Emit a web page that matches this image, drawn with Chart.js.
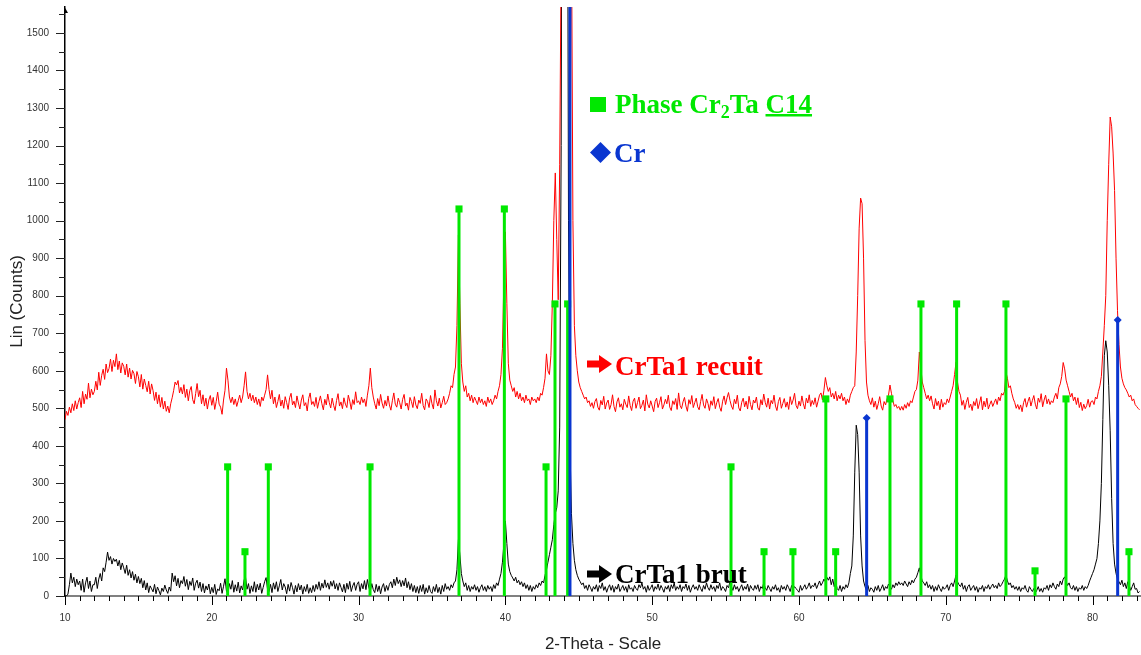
<!DOCTYPE html>
<html>
<head>
<meta charset="utf-8">
<title>CrTa1 - DRX</title>
<script src="https://cdn.jsdelivr.net/npm/chart.js@4.4.1/dist/chart.umd.min.js"></script>
<style>
  html, body { margin: 0; padding: 0; background: #fff; }
  #wrap { position: relative; width: 1141px; height: 655px; }
</style>
</head>
<body>
<div id="wrap"><canvas id="xrdChart"></canvas></div>
<script>
// scan grid of the diffractometer (2-theta, degrees)
const scanStart = 10.0;
const scanStep = 0.1;

// CrTa1 recuit, counts (one row = one degree, 10.0 -> 83.2)
const recuitCounts = [
  470, 492, 481, 503, 488, 512, 494, 520, 498, 515,
  528, 502, 545, 512, 538, 524, 567, 528, 551, 536,
  545, 572, 549, 596, 561, 588, 604, 577, 618, 595,
  606, 631, 598, 628, 611, 645, 603, 626, 594, 621,
  612, 589, 618, 583, 607, 578, 601, 592, 566, 598,
  584, 557, 590, 551, 578, 561, 544, 572, 538, 565,
  547, 521, 543, 512, 536, 503, 529, 498, 519, 492,
  506, 488, 512, 528, 547, 570, 562, 574, 541, 556,
  538, 563, 529, 551, 520, 547, 558, 523, 512, 539,
  566, 531, 548, 512, 536, 506, 527, 498, 522, 534,
  508, 529, 497, 518, 543, 511, 503, 484, 522, 548,
  607, 575, 530, 515, 530, 510, 525, 505, 520, 535,
  515, 530, 560, 597, 545, 525, 540, 520, 535, 515,
  530, 510, 525, 505, 530, 520, 535, 550, 589, 550,
  525, 548, 512, 530, 502, 518, 537, 506, 522, 500,
  531, 515, 497, 528, 540, 509, 519, 502, 533, 514,
  498, 522, 536, 507, 515, 493, 526, 541, 510, 518,
  505, 529, 500, 518, 533, 512, 496, 524, 509, 538,
  516, 501, 527, 508, 494, 521, 539, 506, 517, 499,
  528, 511, 502, 535, 519, 497, 523, 510, 544, 515,
  520, 510, 530, 515, 525, 505, 535, 560, 607, 555,
  530, 512, 498, 526, 507, 537, 514, 500, 521, 506,
  533, 509, 495, 520, 541, 511, 503, 527, 515, 498,
  524, 537, 506, 514, 495, 529, 518, 502, 531, 509,
  499, 522, 513, 540, 507, 496, 525, 518, 502, 534,
  512, 498, 549, 520, 506, 527, 501, 515, 532, 510,
  515, 525, 540, 560, 555, 590, 610, 720, 962, 780,
  620, 570, 545, 560, 530, 540, 520, 535, 515, 530,
  520, 510, 530, 515, 525, 510, 520, 505, 530, 515,
  525, 510, 520, 535, 525, 545, 560, 590, 660, 850,
  970, 780, 620, 575, 560, 545, 555, 530, 545, 525,
  540, 520, 530, 515, 535, 520, 525, 510, 530, 520,
  525, 515, 530, 520, 540, 535, 555, 580, 645, 600,
  590, 640, 780, 1000, 1127, 950, 789, 1150, 1700, 2600,
  3800, 5200, 6800, 7600, 6500, 1800, 1000, 720, 640, 600,
  570, 555, 545, 535, 525, 530, 515, 520, 505, 515,
  500, 518, 526, 503, 495, 521, 509, 532, 498, 514,
  522, 497, 510, 536, 505, 491, 517, 528, 503, 512,
  496, 524, 511, 502, 533, 507, 494, 519, 527, 500,
  515, 530, 499, 508, 522, 493, 536, 511, 501, 520,
  506, 491, 518, 527, 502, 515, 531, 498, 509, 524,
  512, 535, 503, 494, 520, 510, 526, 497, 541, 508,
  499, 517, 529, 506, 492, 523, 511, 534, 502, 515,
  527, 504, 496, 518, 537, 509, 500, 525, 513, 494,
  520, 508, 531, 499, 515, 526, 503, 492, 519, 533,
  510, 528, 542, 521, 506, 497, 524, 512, 535, 501,
  493, 516, 527, 504, 519, 498, 532, 510, 496, 522,
  514, 530, 501, 495, 523, 509, 538, 516, 503, 527,
  498, 521, 512, 535, 506, 494, 518, 529, 500, 513,
  526, 503, 517, 497, 531, 510, 522, 540, 508, 499,
  519, 506, 533, 512, 498, 527, 514, 536, 505, 521,
  510, 528, 503, 519, 535, 541, 522, 548, 582, 560,
  545, 555, 530, 540, 525, 545, 520, 535, 525, 540,
  520, 530, 510, 525, 515, 535, 545, 555, 560, 650,
  800, 980, 1060, 1045, 900, 680, 570, 535, 520, 510,
  528, 503, 519, 497, 512, 531, 506, 495, 518, 509,
  525, 535, 562, 540, 520, 505, 510, 500, 505, 495,
  505, 495, 510, 500, 515, 505, 520, 515, 530, 545,
  550, 575, 650, 610, 570, 555, 540, 525, 535, 520,
  533, 512, 498, 526, 507, 519, 496, 524, 503, 515,
  510, 525, 515, 530, 545, 560, 590, 623, 570, 545,
  535, 508, 521, 497, 516, 529, 502, 511, 494, 518,
  507, 526, 499, 514, 531, 496, 519, 504, 527, 498,
  510, 520, 505, 515, 525, 510, 530, 520, 540, 535,
  545, 597, 580, 555, 560, 540, 525, 515, 500, 510,
  497, 509, 491, 515, 526, 503, 518, 530, 506, 521,
  534, 511, 498, 527, 516, 539, 504, 522, 535, 512,
  525, 510, 520, 515, 530, 540, 525, 555, 565, 585,
  622, 605, 575, 560, 545, 530, 540, 520, 530, 510,
  528, 502, 516, 494, 511, 499, 507, 524, 503, 518,
  520, 510, 530, 525, 545, 560, 585, 650, 720, 800,
  1000, 1150, 1276, 1250, 1180, 1080, 900, 760, 670, 610,
  580, 565, 555, 549, 540, 530, 535, 520, 525, 510,
  505, 500, 496
];

// CrTa1 brut, counts (same grid)
const brutCounts = [
  0, 0, 5, 30, 61, 35, 50, 25, 45, 30,
  40, 15, 45, 10, 35, 50, 20, 40, 12, 30,
  30, 50, 20, 45, 60, 40, 75, 65, 90, 117,
  95, 105, 85, 100, 92, 98, 80, 95, 70, 88,
  75, 60, 82, 55, 70, 48, 65, 42, 58, 35,
  52, 33, 47, 22, 41, 16, 35, 9, 27, 19,
  11, 31, 6, 24, 14, 3, 21, 12, 29, 16,
  7, 24, 13, 61, 38, 54, 27, 47, 22, 41,
  33, 52, 26, 44, 17, 39, 28, 48, 15, 34,
  42, 21, 37, 12, 33, 8, 27, 16, 32, 6,
  23, 9, 31, 4, 19, 14, 34, 7, 26, 46,
  13, 6, 33, 18, 41, 10, 30, 13, 37, 8,
  27, 16, 43, 49, 18, 33, 7, 27, 12, 38,
  10, 31, 16, 34, 7, 23, 38, 49, 17, 12,
  31, 9, 35, 18, 38, 12, 27, 44, 16, 33,
  24, 6, 31, 13, 36, 22, 5, 28, 11, 33,
  16, 29, 5, 25, 12, 31, 7, 22, 9, 28,
  12, 31, 18, 38, 15, 34, 21, 43, 23, 35,
  18, 39, 26, 41, 19, 33, 15, 35, 23, 11,
  31, 9, 34, 18, 39, 12, 27, 36, 15, 31,
  38, 12, 33, 19, 41, 17, 44, 22, 14, 33,
  17, 9, 31, 12, 27, 6, 24, 33, 12, 28,
  15, 31, 38, 22, 45, 28, 50, 33, 43, 25,
  41, 27, 48, 22, 38, 17, 33, 12, 28, 9,
  25, 7, 28, 12, 31, 5, 22, 9, 28, 12,
  7, 25, 12, 31, 9, 23, 5, 28, 12, 33,
  18, 25, 15, 30, 22, 35, 40, 70, 150, 110,
  60, 40, 25, 35, 15, 28, 12, 25, 18, 30,
  15, 25, 10, 22, 30, 15, 25, 12, 28, 18,
  25, 12, 30, 20, 35, 28, 45, 60, 90, 140,
  200, 140, 85, 65, 55, 48, 40, 50, 35, 42,
  30, 38, 25, 35, 20, 30, 15, 28, 12, 25,
  18, 30, 22, 35, 28, 40, 35, 55, 70, 90,
  110, 130, 150, 190, 220, 235, 280, 450, 1200, 3000,
  5000, 4500, 2500, 1000, 400, 220, 140, 95, 70, 55,
  45, 38, 30, 35, 20, 28, 15, 30, 22, 12,
  25, 18, 30, 12, 28, 20, 35, 15, 25, 10,
  22, 30, 15, 28, 10, 25, 18, 32, 12, 20,
  28, 15, 25, 10, 30, 18, 22, 12, 28, 20,
  15, 30, 22, 35, 18, 25, 10, 28, 15, 22,
  30, 12, 25, 18, 32, 15, 28, 20, 10, 25,
  18, 28, 12, 30, 20, 35, 15, 25, 18, 30,
  12, 25, 20, 32, 15, 28, 10, 22, 30, 18,
  25, 15, 30, 20, 12, 28, 18, 35, 22, 15,
  30, 18, 25, 12, 28, 20, 35, 15, 25, 20,
  12, 28, 22, 38, 25, 15, 30, 18, 25, 12,
  22, 30, 15, 25, 18, 32, 12, 28, 20, 15,
  28, 18, 30, 12, 25, 20, 35, 22, 15, 28,
  20, 12, 25, 18, 30, 15, 22, 10, 28, 18,
  25, 15, 30, 22, 12, 28, 18, 25, 20, 15,
  10, 28, 15, 22, 30, 18, 25, 35, 20, 28,
  25, 35, 20, 30, 40, 28, 35, 45, 38, 50,
  42, 51, 30, 45, 25, 38, 20, 15, 28, 12,
  25, 18, 30, 22, 35, 60, 80, 160, 330, 455,
  430, 330, 160, 80, 40, 25, 15, 28, 12, 22,
  18, 10, 25, 15, 28, 12, 20, 30, 15, 25,
  20, 32, 25, 18, 30, 22, 35, 28, 38, 30,
  35, 28, 40, 32, 25, 38, 30, 42, 35, 45,
  50, 62, 75, 55, 40, 35, 28, 38, 22, 30,
  18, 28, 12, 25, 15, 30, 20, 12, 25, 18,
  22, 30, 15, 28, 35, 25, 40, 56, 38, 30,
  25, 35, 18, 28, 12, 25, 30, 15, 22, 28,
  15, 25, 10, 22, 18, 28, 12, 25, 20, 30,
  18, 25, 32, 22, 28, 20, 35, 25, 30, 38,
  45, 56, 40, 30, 35, 22, 28, 18, 25, 15,
  25, 12, 22, 18, 28, 15, 10, 25, 18, 12,
  20, 8, 15, 25, 12, 20, 10, 22, 18, 28,
  15, 30, 22, 35, 25, 18, 32, 25, 40, 30,
  45, 51, 38, 28, 35, 22, 18, 28, 15, 25,
  12, 22, 18, 28, 15, 25, 20, 28, 40, 50,
  60, 70, 85, 100, 140, 200, 300, 470, 640, 680,
  650, 560, 440, 260, 140, 85, 60, 45, 38, 30,
  42, 25, 35, 20, 38, 28, 15, 25, 35, 18,
  20, 8, 12
];

// reference sticks: Phase Cr2Ta C14 (green) and Cr (blue)
const c14Angles = [21.08, 22.26, 23.85, 30.78, 36.84, 39.93, 42.77, 43.38, 44.24, 55.37, 57.62,
                   59.59, 61.83, 62.50, 66.20, 68.31, 70.74, 74.10, 76.08, 78.19, 82.48];
const c14Heights = [344, 118, 344, 344, 1031, 1031, 344, 778, 778, 344, 118,
                    118, 525, 118, 525, 778, 778, 778, 67, 525, 118];
const crAngles = [44.40, 64.61, 81.71];
const crHeights = [4000, 474, 735];

// axis tick labels
const xTickLabels = [10, 20, 30, 40, 50, 60, 70, 80];
const yTickLabels = [0, 100, 200, 300, 400, 500, 600, 700, 800, 900, 1000, 1100, 1200, 1300, 1400, 1500];

const c14Color = '#00e800';
const crColor = '#0a36d0';
const sansFont = '"Liberation Sans", Arial, sans-serif';
const serifFont = '"Liberation Serif", "Times New Roman", serif';

function toPoints(counts) {
  return counts.map((c, i) => ({ x: Math.round((scanStart + i * scanStep) * 10) / 10, y: c }));
}

function toSticks(angles, heights) {
  let pts = [];
  angles.forEach((a, i) => {
    pts.push({ x: a, y: 0 }, { x: a, y: heights[i] }, { x: a, y: null });
  });
  return pts;
}

function drawArrow(ctx, x, y, color) {
  ctx.fillStyle = color;
  ctx.fillRect(x, y - 3.5, 14, 7);
  ctx.beginPath();
  ctx.moveTo(x + 12, y - 9);
  ctx.lineTo(x + 25, y);
  ctx.lineTo(x + 12, y + 9);
  ctx.closePath();
  ctx.fill();
}

// tick marks, axis arrow and the phase / sample labels
const xrdDecor = {
  id: 'xrdDecor',
  afterDraw(chart) {
    const ctx = chart.ctx;
    const xs = chart.scales.x;
    const ys = chart.scales.y;
    const area = chart.chartArea;
    ctx.save();

    ctx.strokeStyle = '#000';
    ctx.lineWidth = 1;
    for (let d = 10; d <= 83; d++) {
      const px = Math.round(xs.getPixelForValue(d)) + 0.5;
      const len = d % 10 === 0 ? 9 : 5;
      ctx.beginPath();
      ctx.moveTo(px, area.bottom);
      ctx.lineTo(px, area.bottom + len);
      ctx.stroke();
    }
    ctx.strokeStyle = '#222';
    for (let v = 0; v <= 1550; v += 50) {
      const py = Math.round(ys.getPixelForValue(v)) + 0.5;
      const len = v % 100 === 0 ? 9 : 6;
      ctx.beginPath();
      ctx.moveTo(area.left, py);
      ctx.lineTo(area.left - len, py);
      ctx.stroke();
    }
    // arrow head on top of the y axis
    ctx.fillStyle = '#000';
    ctx.beginPath();
    ctx.moveTo(area.left - 1, area.top - 1);
    ctx.lineTo(area.left + 3, area.top + 6);
    ctx.lineTo(area.left - 1, area.top + 6);
    ctx.closePath();
    ctx.fill();

    // legend: Phase Cr2Ta C14
    const big = 'bold 27px ' + serifFont;
    ctx.fillStyle = c14Color;
    ctx.fillRect(590, 97, 16, 15);
    ctx.font = big;
    ctx.textBaseline = 'alphabetic';
    ctx.textAlign = 'left';
    let x = 615;
    ctx.fillText('Phase Cr', x, 113);
    x += ctx.measureText('Phase Cr').width;
    ctx.font = 'bold 18px ' + serifFont;
    ctx.fillText('2', x, 118);
    x += ctx.measureText('2').width;
    ctx.font = big;
    ctx.fillText('Ta ', x, 113);
    x += ctx.measureText('Ta ').width;
    ctx.fillText('C14', x, 113);
    ctx.fillRect(x, 114, ctx.measureText('C14').width, 2.5);

    // legend: Cr
    ctx.fillStyle = crColor;
    ctx.beginPath();
    ctx.moveTo(600.5, 142);
    ctx.lineTo(611, 152.5);
    ctx.lineTo(600.5, 163);
    ctx.lineTo(590, 152.5);
    ctx.closePath();
    ctx.fill();
    ctx.fillText('Cr', 614, 162);

    // sample labels
    drawArrow(ctx, 587, 364, '#ff0000');
    ctx.fillStyle = '#ff0000';
    ctx.fillText('CrTa1 recuit', 615, 375);
    drawArrow(ctx, 587, 574, '#000');
    ctx.fillStyle = '#000';
    ctx.fillText('CrTa1 brut', 615, 583);

    ctx.restore();
  }
};

const ctx = document.getElementById('xrdChart').getContext('2d');
const xrdChart = new Chart(ctx, {
  type: 'line',
  data: {
    datasets: [
      {
        label: 'Cr',
        data: toSticks(crAngles, crHeights),
        borderColor: crColor,
        borderWidth: 3,
        pointStyle: 'rectRot',
        pointRadius: c => (c.raw && c.raw.y > 0 ? 4 : 0),
        pointBackgroundColor: crColor,
        pointBorderWidth: 0,
        order: 0
      },
      {
        label: 'Phase Cr2Ta C14',
        data: toSticks(c14Angles, c14Heights),
        borderColor: c14Color,
        borderWidth: 3,
        pointStyle: 'rect',
        pointRadius: c => (c.raw && c.raw.y > 0 ? 5 : 0),
        pointBackgroundColor: c14Color,
        pointBorderWidth: 0,
        order: 1
      },
      {
        label: 'CrTa1 recuit',
        data: toPoints(recuitCounts),
        borderColor: '#ff0000',
        borderWidth: 1,
        pointRadius: 0,
        tension: 0,
        order: 2
      },
      {
        label: 'CrTa1 brut',
        data: toPoints(brutCounts),
        borderColor: '#000000',
        borderWidth: 1,
        pointRadius: 0,
        tension: 0,
        order: 3
      }
    ]
  },
  options: {
    responsive: true,
    maintainAspectRatio: false,
    animation: false,
    events: [],
    layout: { padding: { top: 7, right: 0, bottom: 0, left: 0 } },
    plugins: {
      legend: { display: false },
      tooltip: { enabled: false }
    },
    scales: {
      x: {
        type: 'linear',
        min: 10,
        max: 83.3,
        offset: false,
        afterBuildTicks: s => { s.ticks = xTickLabels.map(v => ({ value: v })); },
        afterFit: s => { s.height = 59; s.paddingLeft = 0; s.paddingRight = 0; },
        grid: { display: false },
        border: { display: true, color: '#808080', width: 2 },
        ticks: {
          autoSkip: false,
          maxRotation: 0,
          padding: 8,
          color: '#333',
          font: { family: sansFont, size: 10 },
          callback: v => String(v)
        },
        title: {
          display: true,
          text: '2-Theta - Scale',
          color: '#222',
          font: { family: sansFont, size: 17 },
          padding: { top: 0, bottom: 0 }
        }
      },
      y: {
        type: 'linear',
        min: 0,
        max: 1569,
        afterBuildTicks: s => { s.ticks = yTickLabels.map(v => ({ value: v })); },
        afterFit: s => { s.width = 65; s.paddingTop = 0; s.paddingBottom = 0; },
        grid: { display: false },
        border: { display: true, color: '#000', width: 1.5 },
        ticks: {
          padding: 8,
          color: '#333',
          font: { family: sansFont, size: 10 },
          callback: v => String(v)
        },
        title: {
          display: true,
          text: 'Lin (Counts)',
          color: '#222',
          font: { family: sansFont, size: 17 },
          padding: { top: 7, bottom: 0 }
        }
      }
    }
  },
  plugins: [xrdDecor]
});
</script>
</body>
</html>
